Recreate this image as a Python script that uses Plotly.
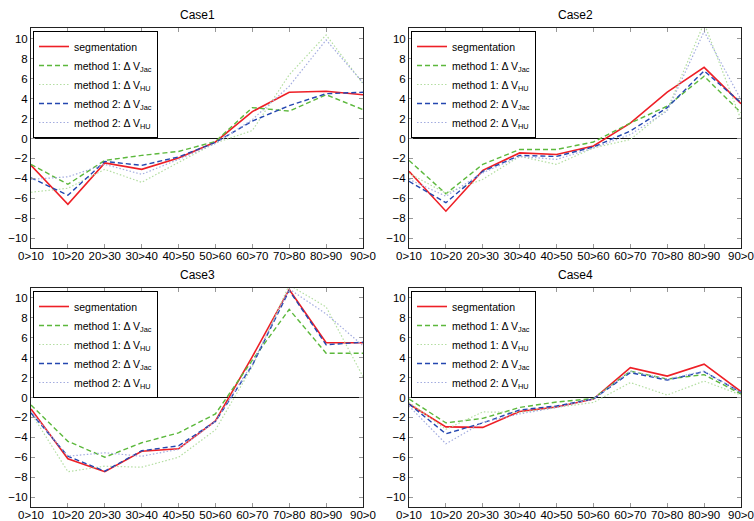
import plotly.graph_objects as go

categories = ["0>10", "10>20", "20>30", "30>40", "40>50", "50>60", "60>70", "70>80", "80>90", "90>0"]
case_titles = ["Case1", "Case2", "Case3", "Case4"]
y_ticks = [-10, -8, -6, -4, -2, 0, 2, 4, 6, 8, 10]

series_names = [
    "segmentation",
    "method 1: Δ V<sub>Jac</sub>",
    "method 1: Δ V<sub>HU</sub>",
    "method 2: Δ V<sub>Jac</sub>",
    "method 2: Δ V<sub>HU</sub>",
]

# Case 1
case1_seg = [-2.7, -6.6, -2.45, -3.1, -1.95, -0.35, 2.7, 4.65, 4.75, 4.4]
case1_m1_jac = [-2.6, -4.6, -2.2, -1.7, -1.3, -0.3, 3.1, 2.75, 4.4, 2.9]
case1_m1_hu = [-5.4, -5.0, -3.1, -4.4, -2.4, -0.45, 0.8, 6.4, 10.4, 5.5]
case1_m2_jac = [-3.95, -5.7, -2.3, -2.7, -1.85, -0.4, 1.75, 3.3, 4.5, 4.65]
case1_m2_hu = [-4.1, -3.85, -2.6, -3.6, -2.1, -0.5, 1.9, 5.25, 9.9, 5.6]

# Case 2
case2_seg = [-3.3, -7.3, -3.2, -1.45, -1.6, -0.75, 1.55, 4.65, 7.15, 3.5]
case2_m1_jac = [-2.2, -5.55, -2.6, -1.1, -1.1, -0.35, 1.55, 3.25, 6.25, 2.6]
case2_m1_hu = [-3.5, -5.5, -4.1, -1.8, -2.6, -0.95, -0.1, 2.9, 11.6, 1.9]
case2_m2_jac = [-4.3, -6.45, -3.3, -1.7, -1.8, -0.85, 0.75, 3.1, 6.8, 3.6]
case2_m2_hu = [-4.1, -5.8, -3.45, -1.8, -2.1, -0.95, 0.4, 2.75, 10.75, 3.9]

# Case 3
case3_seg = [-1.15, -6.15, -7.45, -5.4, -5.15, -2.35, 4.1, 10.85, 5.5, 5.5]
case3_m1_jac = [-0.75, -4.4, -6.0, -4.55, -3.55, -1.65, 3.75, 8.85, 4.45, 4.45]
case3_m1_hu = [-1.55, -7.45, -6.9, -7.0, -6.0, -3.25, 3.1, 11.3, 9.1, 2.1]
case3_m2_jac = [-1.55, -5.9, -7.4, -5.35, -4.85, -2.4, 3.25, 10.75, 5.3, 5.55]
case3_m2_hu = [-1.4, -5.9, -5.55, -5.9, -5.2, -2.4, 3.4, 10.9, 8.4, 5.2]

# Case 4
case4_seg = [-0.65, -2.95, -3.0, -1.4, -0.95, -0.15, 3.0, 2.15, 3.35, 0.6]
case4_m1_jac = [-0.15, -2.55, -2.1, -1.0, -0.45, -0.1, 2.65, 1.85, 2.3, 0.35]
case4_m1_hu = [-0.5, -3.2, -1.45, -1.5, -1.0, -0.5, 1.5, 0.25, 1.65, 0.25]
case4_m2_jac = [-0.65, -3.65, -2.55, -1.25, -0.85, -0.15, 2.5, 1.75, 2.6, 0.5]
case4_m2_hu = [-0.85, -4.65, -2.5, -1.65, -1.0, -0.15, 2.65, 1.85, 2.65, 0.5]

cases = [
    [case1_seg, case1_m1_jac, case1_m1_hu, case1_m2_jac, case1_m2_hu],
    [case2_seg, case2_m1_jac, case2_m1_hu, case2_m2_jac, case2_m2_hu],
    [case3_seg, case3_m1_jac, case3_m1_hu, case3_m2_jac, case3_m2_hu],
    [case4_seg, case4_m1_jac, case4_m1_hu, case4_m2_jac, case4_m2_hu],
]

styles = [
    dict(color="#ee1f26", width=1.6, dash="solid"),
    dict(color="#5cb83c", width=1.4, dash="5px,3px"),
    dict(color="#b4dea2", width=1.2, dash="1.5px,2px"),
    dict(color="#2447b0", width=1.4, dash="5px,3px"),
    dict(color="#a3acdf", width=1.2, dash="1.5px,2px"),
]

W, H = 754, 521
# plot areas in pixels: (left, right, top, bottom)
boxes = [
    (31, 363, 28, 248),
    (409, 741, 28, 248),
    (31, 363, 288, 507),
    (409, 741, 288, 507),
]
yranges = [[-11, 11.1], [-11, 11.1], [-11, 11], [-11, 11]]

FONT = "Liberation Sans, Arial, sans-serif"
fig = go.Figure()
layout = dict(
    width=W, height=H, margin=dict(l=0, r=0, t=0, b=0, autoexpand=False),
    paper_bgcolor="white", plot_bgcolor="white",
    font=dict(family=FONT, size=11, color="black"),
    showlegend=True,
)

annotations = []
for i, (box, data) in enumerate(zip(boxes, cases)):
    l, r, t, b = box
    sfx = "" if i == 0 else str(i + 1)
    xa, ya = "x" + sfx, "y" + sfx
    leg = "legend" + sfx
    for name, vals, st in zip(series_names, data, styles):
        fig.add_trace(go.Scatter(
            x=list(range(len(categories))), y=vals, mode="lines", name=name,
            line=st, xaxis=xa, yaxis=ya, legend=leg,
        ))
    layout["xaxis" + sfx] = dict(
        domain=[l / W, r / W], anchor=ya, range=[0, len(categories) - 1],
        tickmode="array", tickvals=list(range(len(categories))), ticktext=categories,
        ticks="inside", ticklen=4, tickcolor="#999999", showgrid=False, zeroline=False,
        showline=True, linecolor="#222222", linewidth=1, mirror="ticks",
        tickfont=dict(size=11.5), fixedrange=True, automargin=False,
        ticklabelstandoff=-3,
    )
    layout["yaxis" + sfx] = dict(
        domain=[1 - b / H, 1 - t / H], anchor=xa, range=yranges[i],
        tickmode="array", tickvals=y_ticks,
        ticks="inside", ticklen=4, tickcolor="#999999", showgrid=False,
        zeroline=True, zerolinecolor="#111111", zerolinewidth=1,
        showline=True, linecolor="#222222", linewidth=1, mirror="ticks",
        tickfont=dict(size=11.5), fixedrange=True, automargin=False,
    )
    layout[leg] = dict(
        x=(l + 2) / W, y=1 - (t + 3) / H, xanchor="left", yanchor="top",
        bgcolor="white", bordercolor="black", borderwidth=1,
        font=dict(size=10.5, family=FONT), tracegroupgap=0,
        itemwidth=30,
    )
    annotations.append(dict(
        text=case_titles[i], x=(l + r) / 2 / W, y=1 - (t - 13) / H,
        xref="paper", yref="paper", showarrow=False,
        xanchor="center", yanchor="middle", font=dict(size=12),
    ))

layout["annotations"] = annotations
fig.update_layout(**layout)
fig.write_html(
    "out.html",
    config={"displayModeBar": False},
    post_script="document.body.style.margin='0';document.body.style.padding='0';",
)
